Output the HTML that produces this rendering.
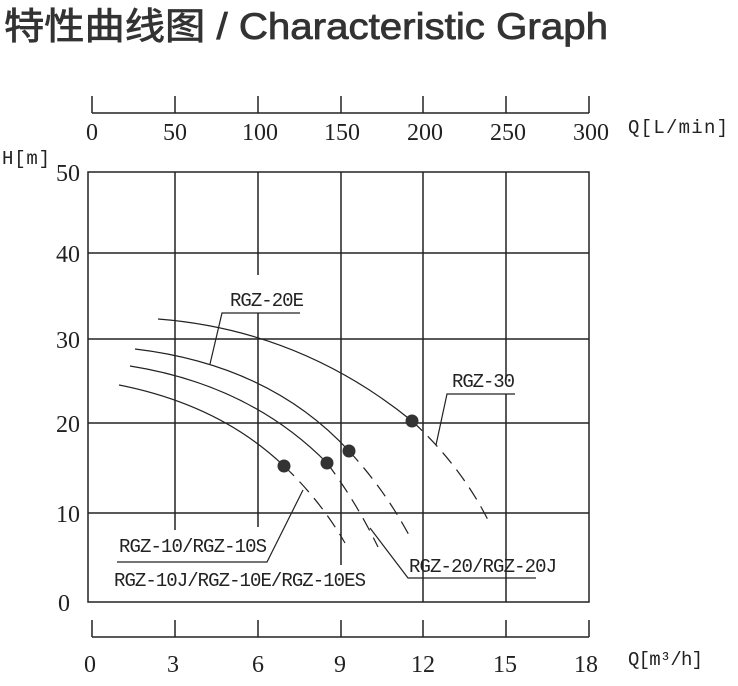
<!DOCTYPE html>
<html><head><meta charset="utf-8"><style>
body{margin:0;background:#fff;width:738px;height:686px;overflow:hidden}
svg{position:absolute;left:0;top:0}
</style></head><body>
<svg width="738" height="686" viewBox="0 0 738 686" xmlns="http://www.w3.org/2000/svg">
<text x="4" y="39" font-family="Liberation Sans, Noto Sans CJK SC, sans-serif" font-size="37" fill="#333" stroke="#333" stroke-width="0.8" textLength="604" lengthAdjust="spacingAndGlyphs">特性曲线图 / Characteristic Graph</text>
<g stroke="#222" stroke-width="1.5" fill="none">
<line x1="92" y1="113" x2="589" y2="113"/>
<path d="M92 96V113M175 96V113M258 96V113M341 96V113M423 96V113M506 96V113M589 96V113"/>
<line x1="92" y1="637" x2="589" y2="637"/>
<path d="M92 620V637M175 620V637M258 620V637M341 620V637M423 620V637M506 620V637M589 620V637"/>
<rect x="88" y="172" width="501" height="430"/>
<path d="M88 253H589M88 339H589M88 423H589M88 513H589"/>
<path d="M175 172V530M258 172V275M258 313V527M341 172V565M423 172V602M506 172V380M506 394V602"/>
</g>
<g stroke="#222" stroke-width="1.2" fill="none">
<path d="M158 319 Q300 330 412 421"/>
<path d="M412 421 Q460 465 488 520" stroke-dasharray="14,8"/>
<path d="M135 349 Q270 365 349 451"/>
<path d="M349 451 Q385 490 410 537" stroke-dasharray="14,8"/>
<path d="M130 366 Q250 385 327 463"/>
<path d="M327 463 Q355 500 378 547" stroke-dasharray="14,8"/>
<path d="M119 385 Q220 405 284 466"/>
<path d="M284 466 Q320 500 345 543" stroke-dasharray="14,8"/>
<path d="M300 313H222L210 364"/>
<path d="M515 394H447L436 445"/>
<path d="M117 562H267L303 490"/>
<path d="M536 578H408L370 528"/>
</g>
<g fill="#333">
<circle cx="412" cy="421" r="6.5"/><circle cx="349" cy="451" r="6.5"/><circle cx="327" cy="463" r="6.5"/><circle cx="284" cy="466" r="6.5"/>
</g>
<g font-family="Liberation Serif, serif" font-size="24" fill="#222" text-anchor="middle">
<text x="92" y="140">0</text><text x="175" y="140">50</text><text x="260" y="140">100</text><text x="342" y="140">150</text><text x="425" y="140">200</text><text x="508" y="140">250</text><text x="591" y="140">300</text>
<text x="90" y="672">0</text><text x="173" y="672">3</text><text x="258" y="672">6</text><text x="340" y="672">9</text><text x="423" y="672">12</text><text x="505" y="672">15</text><text x="586" y="672">18</text>
</g>
<g font-family="Liberation Serif, serif" font-size="24" fill="#222" text-anchor="end">
<text x="80" y="181">50</text><text x="80" y="262">40</text><text x="80" y="348">30</text><text x="80" y="432">20</text><text x="80" y="522">10</text><text x="70" y="611">0</text>
</g>
<g font-family="Liberation Mono, monospace" font-size="19" fill="#222">
<text x="2" y="164" textLength="48">H[m]</text>
<text x="628" y="133" textLength="100">Q[L/min]</text>
<text x="628" y="665" textLength="75">Q[m³/h]</text>
<text x="230" y="306" textLength="74">RGZ-20E</text>
<text x="452" y="387" textLength="63">RGZ-30</text>
<text x="119" y="552" textLength="148">RGZ-10/RGZ-10S</text>
<text x="114" y="586" textLength="252">RGZ-10J/RGZ-10E/RGZ-10ES</text>
<text x="409" y="572" textLength="148">RGZ-20/RGZ-20J</text>
</g>
</svg>
</body></html>
